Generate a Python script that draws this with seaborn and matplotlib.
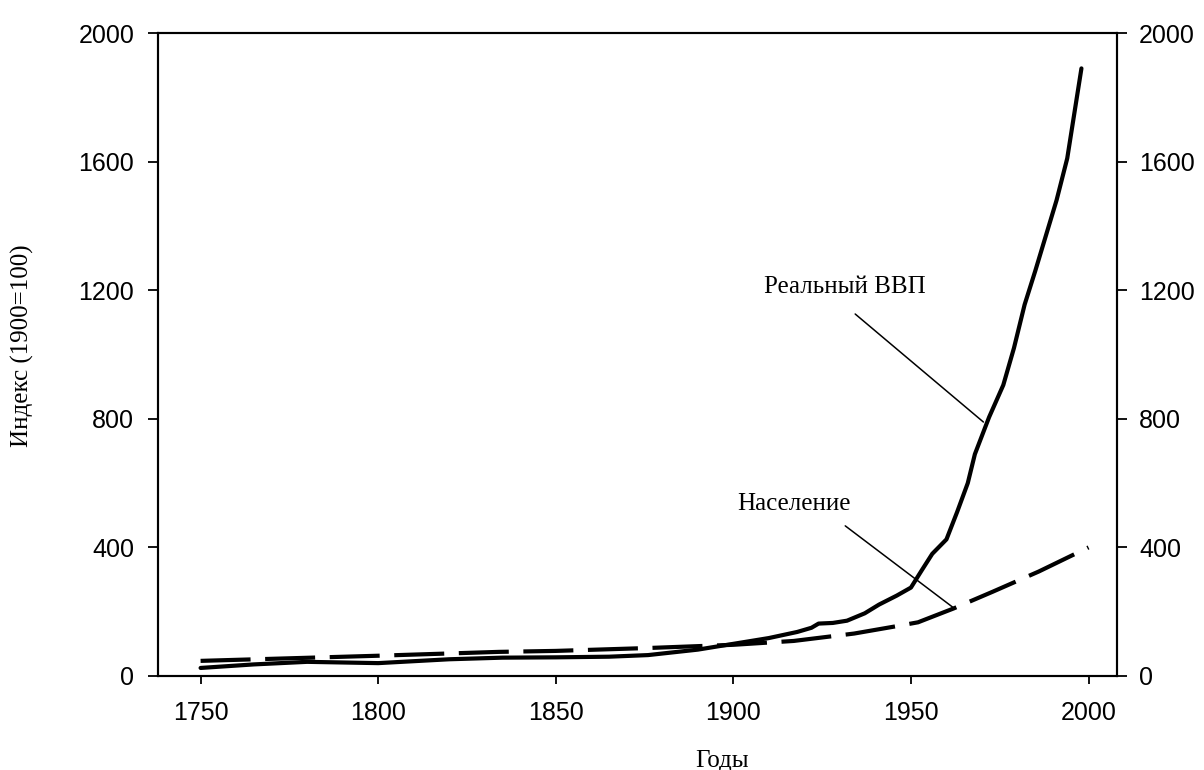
import numpy as np
import pandas as pd
import matplotlib
matplotlib.use('Agg')
import matplotlib.pyplot as plt
import seaborn as sns

gdp_years = [1750, 1765, 1780, 1800, 1820, 1835, 1850, 1865, 1876, 1890, 1900,
             1910, 1918, 1922, 1924, 1928, 1932, 1937, 1941, 1946, 1950, 1953,
             1956, 1960, 1963, 1966, 1968, 1972, 1976, 1979, 1982, 1985, 1988,
             1991, 1994, 1998]
gdp_values = [25, 36, 44, 40, 52, 57, 58, 60, 65, 82, 100,
              118, 137, 150, 163, 165, 172, 195, 222, 250, 275, 328,
              380, 425, 510, 600, 690, 805, 905, 1020, 1155, 1260, 1370,
              1480, 1610, 1890]

# Population index (1900=100)
pop_years = [1750, 1775, 1800, 1834, 1850, 1876, 1900, 1917, 1934, 1946,
             1952, 1962, 1973, 1986, 2000]
pop_values = [47, 55, 63, 75, 78, 87, 97, 109, 132, 155,
              167, 210, 262, 325, 400]

x_ticks = [1750, 1800, 1850, 1900, 1950, 2000]
y_ticks = [0, 400, 800, 1200, 1600, 2000]

gdp = pd.DataFrame({'year': gdp_years, 'value': gdp_values})
pop = pd.DataFrame({'year': pop_years, 'value': pop_values})

sns.set_style('ticks')
plt.rcParams['font.family'] = ['Liberation Sans', 'DejaVu Sans']
plt.rcParams['text.color'] = 'black'
plt.rcParams['axes.labelcolor'] = 'black'
plt.rcParams['xtick.color'] = 'black'
plt.rcParams['ytick.color'] = 'black'
plt.rcParams['axes.edgecolor'] = 'black'

fig = plt.figure(figsize=(12.04, 7.7), dpi=100)
ax = fig.add_axes([0.1312, 0.1221, 0.7965, 0.835])

sns.lineplot(data=gdp, x='year', y='value', ax=ax, color='black', linewidth=3.0)
sns.lineplot(data=pop, x='year', y='value', ax=ax, color='black', linewidth=3.0)
ax.lines[1].set_dashes([12, 3.5])

ax.set_xlim(1738, 2008)
ax.set_ylim(0, 2000)
ax.set_xticks(x_ticks)
ax.set_yticks(y_ticks)

for s in ax.spines.values():
    s.set_linewidth(1.5)

ax.tick_params(axis='x', direction='out', length=6, width=1.3, pad=12, labelsize=18)
ax.tick_params(axis='y', direction='out', length=7, width=1.3, pad=10, labelsize=18)

ax2 = ax.twinx()
ax2.set_ylim(0, 2000)
ax2.set_yticks(y_ticks)
ax2.tick_params(axis='y', direction='out', length=7, width=1.3, pad=9, labelsize=18)
for s in ax2.spines.values():
    s.set_linewidth(1.5)

serif = ['Liberation Serif', 'DejaVu Serif']
ax.set_xlabel('Годы', fontsize=18, family=serif)
ax.set_ylabel('Индекс (1900=100)', fontsize=18, family=serif)
ax.xaxis.set_label_coords(0.588, -0.115)
ax.yaxis.set_label_coords(-0.129, 0.513)

# annotations with leader lines
ax.text(1931.5, 1210, 'Реальный ВВП', fontsize=18, family=serif,
        ha='center', va='center')
ax.plot([1934.3, 1970.4], [1126, 790], color='black', linewidth=1.1)
ax.text(1917.2, 535, 'Население', fontsize=18, family=serif,
        ha='center', va='center')
ax.plot([1931.5, 1962], [467, 212], color='black', linewidth=1.1)

plt.savefig('out.png', dpi=100)
